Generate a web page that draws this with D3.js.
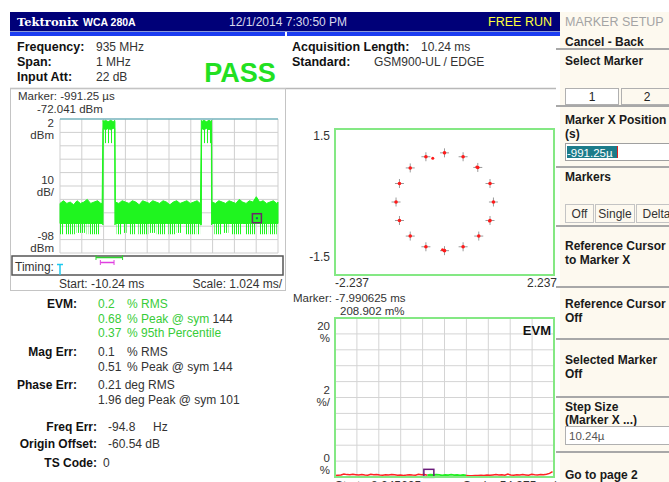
<!DOCTYPE html>
<html><head><meta charset="utf-8">
<script src="https://cdn.jsdelivr.net/npm/d3@7"></script>
<style>
body{margin:0;background:#fff;}
svg{display:block;font-family:"Liberation Sans",Arial,sans-serif;}
</style>
</head><body>
<svg id="c" width="669" height="482"></svg>
<script>
// ---------------- DATA ----------------
const headerTexts = ["Tektronix", "WCA 280A", "12/1/2014 7:30:50 PM", "FREE RUN"];
const setupLabels = ["Frequency:", "Span:", "Input Att:"];
const setupValues = ["935 MHz", "1 MHz", "22 dB"];
const acqLabels = ["Acquisition Length:", "Standard:"];
const acqValues = ["10.24 ms", "GSM900-UL / EDGE"];
const verdict = "PASS";

// Time-domain (power vs time)
const timeStartMs = -10.24, timeScaleMs = 1.024;          // 10 divisions
const refLevelDbm = 2, dbPerDiv = 10;                     // 10 divisions
const traceTimeMs = [-10.24,-10.08,-9.92,-9.76,-9.60,-9.44,-9.28,-9.12,-8.96,-8.80,-8.64,-8.48,-8.32,-8.26,
  -8.22,-8.21,-8.10,-7.98,-7.86,-7.74,-7.67,-7.66,-7.64,
  -7.48,-7.32,-7.16,-7.00,-6.84,-6.68,-6.52,-6.36,-6.20,-6.04,-5.88,-5.72,-5.56,-5.40,-5.24,-5.08,-4.92,-4.76,-4.60,-4.44,-4.28,-4.12,-3.96,-3.80,-3.66,-3.64,
  -3.60,-3.59,-3.48,-3.36,-3.24,-3.13,-3.12,-3.10,
  -2.94,-2.78,-2.62,-2.46,-2.30,-2.14,-1.98,-1.82,-1.66,-1.50,-1.34,-1.18,-1.02,-0.86,-0.70,-0.54,-0.38,-0.22,-0.06,0.00];
const traceHighDbm = [-61,-59,-61,-60,-62,-59,-61,-60,-58,-61,-60,-59,-61,-61,
  1,0,1,0,1,0,1,0,-60,
  -61,-59,-60,-61,-59,-60,-62,-59,-60,-61,-59,-60,-61,-59,-60,-62,-60,-59,-61,-60,-59,-61,-60,-59,-61,-60,
  1,0,1,0,1,0,1,-60,
  -61,-59,-60,-61,-59,-60,-61,-58,-60,-61,-59,-60,-56,-60,-59,-61,-60,-59,-61,-60];
const traceLowDbm = [-76,-76,-76,-76,-76,-76,-76,-76,-76,-76,-76,-76,-76,-76,
  -77,-5,-6,-5,-6,-5,-5,-77,-76,
  -76,-76,-76,-76,-76,-76,-76,-76,-76,-76,-76,-76,-76,-76,-76,-76,-76,-76,-76,-76,-76,-76,-76,-76,-76,-77,
  -77,-5,-6,-5,-6,-5,-77,-76,
  -76,-76,-76,-76,-76,-76,-76,-76,-76,-76,-76,-76,-76,-76,-76,-76,-76,-76,-76,-76];
// sparse downward excursions below the dense noise band
const dipStartMs = [-10.24,-10.00,-9.46,-8.99,-8.83,-7.58,-7.27,-6.95,-6.56,-6.01,-5.70,-5.15,-4.76,-4.37,-3.82,-2.99,-2.57,-2.18,-1.55,-0.85,-0.38];
const dipEndMs   = [-10.08,-9.54,-9.07,-8.91,-8.36,-7.34,-7.11,-6.72,-6.09,-5.78,-5.31,-4.84,-4.52,-3.90,-3.66,-2.65,-2.33,-1.71,-1.08,-0.46,-0.06];
const dipLowDbm  = [-84,-84,-83,-84,-84,-84,-83,-84,-84,-83,-84,-84,-83,-84,-84,-84,-83,-84,-84,-84,-84];
// dips inside the two bursts
const burstDipStartMs = [-8.20, -3.58];
const burstDipEndMs   = [-7.68, -3.13];
const burstDipLowDbm  = [-16, -16];
const timeMarkerMs = -0.99125, timeMarkerDbm = -72.041;
const timingGreenMs = [-8.55, -7.30];
const timingMagentaMs = [-8.345625, -7.701875];

// Constellation
const constI = [0.00,0.38,0.68,0.93,1.00,0.93,0.70,0.38,0.00,-0.38,-0.70,-0.92,-0.99,-0.92,-0.70,-0.38];
const constQ = [1.01,0.93,0.71,0.38,0.00,-0.38,-0.70,-0.92,-1.00,-0.92,-0.70,-0.38,0.00,0.38,0.70,0.93];
const strayI = [-0.24, 0.66, -0.04, 0.92];
const strayQ = [0.90, 0.72, -0.98, -0.39];
const constRangeI = 2.237, constRangeQ = 1.5;

// EVM vs symbol (every 2nd symbol, %)
const evmValues = [0.18,0.22,0.25,0.38,0.30,0.27,0.33,0.29,0.24,0.31,0.26,0.22,0.35,0.28,0.30,0.25,0.21,0.27,0.24,0.32,0.28,0.23,0.26,0.20,0.24,0.29,0.25,0.22,0.33,0.27,0.30,
  0.22,0.28,0.25,0.31,0.26,0.20,0.27,0.24,0.29,0.23,0.26,0.21,0.25,0.19,
  0.17,0.15,0.20,0.18,0.22,0.19,0.24,0.21,0.26,0.30,0.24,0.28,0.22,0.36,0.25,0.21,0.27,0.24,0.30,0.26,0.22,0.33,0.28,0.25,0.31,0.27,0.34,0.45,0.68];
const evmSymbolCount = 147, trainingStart = 62, trainingEnd = 88;
const evmTopPct = 20, evmPctPerDiv = 2;
const evmMarkerSym = 63, evmMarkerPct = 0.209;

// Text results
const metricLabels = ["EVM:", "Mag Err:", "Phase Err:"];
const evmLines = [["0.2", "% RMS", ""], ["0.68", "% Peak @ sym", " 144"], ["0.37", "% 95th Percentile", ""]];
const magLines = [["0.1", "% RMS"], ["0.51", "% Peak @ sym 144"]];
const phaseLines = ["0.21 deg RMS", "1.96 deg Peak @ sym 101"];
const otherLabels = ["Freq Err:", "Origin Offset:", "TS Code:"];
const otherValues = ["-94.8", "-60.54 dB", "0"];

// Menu
const menuTitle = "MARKER SETUP";

// ---------------- DRAW ----------------
const svg = d3.select("#c");
const GREEN = "#1ff51f", TXT = "#333";

// header
svg.append("rect").attr("x",10).attr("y",12).attr("width",550).attr("height",19).attr("fill","#000078");
svg.append("rect").attr("x",10).attr("y",31).attr("width",550).attr("height",1).attr("fill","#8c9ad8");
svg.append("rect").attr("x",10).attr("y",32).attr("width",275).attr("height",4).attr("fill","#1b3cf2");
svg.append("rect").attr("x",287).attr("y",32).attr("width",273).attr("height",4).attr("fill","#1b3cf2");
svg.append("text").attr("x",17).attr("y",26).attr("fill","#fff").attr("font-family","DejaVu Serif").attr("font-weight","bold").attr("font-size",11.5).text(headerTexts[0]);
svg.append("text").attr("x",83).attr("y",26).attr("fill","#fff").attr("font-weight","bold").attr("font-size",10.5).text(headerTexts[1]);
svg.append("text").attr("x",229).attr("y",26).attr("fill","#d8d8ec").attr("font-size",12).text(headerTexts[2]);
svg.append("text").attr("x",552).attr("y",26).attr("fill","#ffff3c").attr("font-size",12.5).attr("text-anchor","end").text(headerTexts[3]);

// right menu panel
svg.append("rect").attr("x",560).attr("y",12).attr("width",109).attr("height",470).attr("fill","#fdf9ef");

// setup block
setupLabels.forEach((l,i)=>{
  svg.append("text").attr("x",17).attr("y",51+i*15).attr("fill","#111").attr("font-weight","bold").attr("font-size",12.5).text(l);
  svg.append("text").attr("x",96).attr("y",51+i*15).attr("fill",TXT).attr("font-size",12).text(setupValues[i]);
});
acqLabels.forEach((l,i)=>{
  svg.append("text").attr("x",292).attr("y",51+i*15).attr("fill","#111").attr("font-weight","bold").attr("font-size",12.5).text(l);
  svg.append("text").attr("x",i===0?421:374).attr("y",51+i*15).attr("fill",TXT).attr("font-size",12).text(acqValues[i]);
});
svg.append("text").attr("x",240).attr("y",82).attr("text-anchor","middle").attr("fill","#22e022").attr("font-weight","bold").attr("font-size",27).text(verdict);
svg.append("line").attr("x1",10).attr("x2",556).attr("y1",88.5).attr("y2",88.5).attr("stroke","#b8b8b8").attr("stroke-width",1.5);

// ---- time domain panel ----
svg.append("rect").attr("x",10.5).attr("y",88.5).attr("width",275).attr("height",202).attr("fill","none").attr("stroke","#c4c4c4");
const xT = d3.scaleLinear().domain([timeStartMs, timeStartMs+10*timeScaleMs]).range([60,278]);
const yP = d3.scaleLinear().domain([refLevelDbm-10*dbPerDiv, refLevelDbm]).range([253,119]);
const defs = svg.append("defs");
const p1 = defs.append("pattern").attr("id","dip").attr("patternUnits","userSpaceOnUse").attr("width",2).attr("height",20);
p1.append("rect").attr("width",1).attr("height",20).attr("fill",GREEN);
const p2 = defs.append("pattern").attr("id","bdip").attr("patternUnits","userSpaceOnUse").attr("width",3).attr("height",30);
p2.append("rect").attr("width",1).attr("height",30).attr("fill",GREEN);

const tTicks = d3.range(11).map(i=>timeStartMs+i*timeScaleMs);
const pTicks = d3.range(11).map(i=>refLevelDbm-i*dbPerDiv);
const gT = svg.append("g");
gT.selectAll("line.v").data(tTicks).join("line").attr("x1",d=>xT(d)).attr("x2",d=>xT(d)).attr("y1",119).attr("y2",253).attr("stroke","#cfcfcf");
gT.selectAll("line.h").data(pTicks).join("line").attr("x1",60).attr("x2",278).attr("y1",d=>yP(d)).attr("y2",d=>yP(d)).attr("stroke","#cfcfcf");
const trace = traceTimeMs.map((t,i)=>({t, hi:traceHighDbm[i], lo:traceLowDbm[i]}));
dipStartMs.forEach((s,i)=>{
  gT.append("rect").attr("x",xT(s)).attr("width",xT(dipEndMs[i])-xT(s)).attr("y",yP(-76)).attr("height",yP(dipLowDbm[i])-yP(-76)).attr("fill","url(#dip)");
});
burstDipStartMs.forEach((s,i)=>{
  gT.append("rect").attr("x",xT(s)).attr("width",xT(burstDipEndMs[i])-xT(s)).attr("y",yP(-5)).attr("height",yP(burstDipLowDbm[i])-yP(-5)).attr("fill","url(#bdip)");
});
gT.append("path").datum(trace).attr("d",d3.area().x(d=>xT(d.t)).y0(d=>yP(d.lo)).y1(d=>yP(d.hi)))
  .attr("fill",GREEN).attr("stroke",GREEN).attr("stroke-width",1);
gT.append("line").attr("x1",60).attr("x2",278).attr("y1",yP(refLevelDbm)).attr("y2",yP(refLevelDbm)).attr("stroke","#4aa6b4").attr("stroke-width",1.2);
gT.append("rect").attr("x",xT(timeMarkerMs)-4.5).attr("y",yP(timeMarkerDbm)-4.5).attr("width",9).attr("height",9).attr("fill","none").attr("stroke","#6a2a6a").attr("stroke-width",1.5);
gT.append("rect").attr("x",xT(timeMarkerMs)-1).attr("y",yP(timeMarkerDbm)-1).attr("width",2).attr("height",2).attr("fill","#2a5a6a");
svg.append("text").attr("x",18).attr("y",100).attr("fill",TXT).attr("font-size",11.5).text("Marker: -991.25 µs");
svg.append("text").attr("x",37).attr("y",113).attr("fill",TXT).attr("font-size",11.5).text("-72.041 dBm");
[["2",127],["dBm",139],["10",184],["dB/",196],["-98",240],["dBm",252]].forEach(([t,y])=>{
  svg.append("text").attr("x",54).attr("y",y).attr("text-anchor","end").attr("fill",TXT).attr("font-size",11.5).text(t);
});
// timing bar
svg.append("rect").attr("x",12).attr("y",256).attr("width",271).attr("height",19).attr("fill","none").attr("stroke","#555").attr("stroke-width",1.5);
svg.append("text").attr("x",15).attr("y",271).attr("fill",TXT).attr("font-size",12).text("Timing:");
svg.append("line").attr("x1",xT(timingGreenMs[0])).attr("x2",xT(timingGreenMs[1])).attr("y1",257.5).attr("y2",257.5).attr("stroke","#2ed62e").attr("stroke-width",1.5);
timingGreenMs.forEach(t=>svg.append("line").attr("x1",xT(t)).attr("x2",xT(t)).attr("y1",255).attr("y2",260).attr("stroke","#2ed62e"));
svg.append("line").attr("x1",xT(timingMagentaMs[0])).attr("x2",xT(timingMagentaMs[1])).attr("y1",262.5).attr("y2",262.5).attr("stroke","#e040e0").attr("stroke-width",1.5);
timingMagentaMs.forEach(t=>svg.append("line").attr("x1",xT(t)).attr("x2",xT(t)).attr("y1",260).attr("y2",265).attr("stroke","#e040e0"));
svg.append("line").attr("x1",xT(timeStartMs)-3).attr("x2",xT(timeStartMs)+3).attr("y1",264.5).attr("y2",264.5).attr("stroke","#1ec8ee").attr("stroke-width",1.5);
svg.append("line").attr("x1",xT(timeStartMs)).attr("x2",xT(timeStartMs)).attr("y1",264).attr("y2",275).attr("stroke","#1ec8ee").attr("stroke-width",1.5);
svg.append("text").attr("x",59).attr("y",288).attr("fill",TXT).attr("font-size",12).text("Start: -10.24 ms");
svg.append("text").attr("x",282).attr("y",288).attr("text-anchor","end").attr("fill",TXT).attr("font-size",12).text("Scale: 1.024 ms/");

// ---- constellation ----
const xI = d3.scaleLinear().domain([-constRangeI, constRangeI]).range([335,554]);
const yQ = d3.scaleLinear().domain([-constRangeQ, constRangeQ]).range([275,129]);
svg.append("rect").attr("x",335).attr("y",129).attr("width",219).attr("height",146).attr("fill","#fff").attr("stroke","#84e884").attr("stroke-width",2);
const pts = constI.map((v,i)=>({i:v, q:constQ[i]}));
const gC = svg.append("g");
gC.selectAll("path.cross").data(pts).join("path").attr("d",d=>`M${xI(d.i)-4.5},${yQ(d.q)}h9M${xI(d.i)},${yQ(d.q)-4.5}v9`).attr("stroke","#9a9a9a").attr("stroke-width",1);
gC.selectAll("circle.p").data(pts).join("circle").attr("cx",d=>xI(d.i)).attr("cy",d=>yQ(d.q)).attr("r",1.8).attr("fill","#ff1a1a");
gC.selectAll("circle.s").data(strayI.map((v,i)=>({i:v,q:strayQ[i]}))).join("circle").attr("cx",d=>xI(d.i)).attr("cy",d=>yQ(d.q)).attr("r",1.5).attr("fill","#ff1a1a");
svg.append("text").attr("x",330).attr("y",140).attr("text-anchor","end").attr("fill",TXT).attr("font-size",12).text(constRangeQ.toFixed(1));
svg.append("text").attr("x",330).attr("y",261).attr("text-anchor","end").attr("fill",TXT).attr("font-size",12).text((-constRangeQ).toFixed(1));
svg.append("text").attr("x",335).attr("y",287).attr("fill",TXT).attr("font-size",12).text((-constRangeI).toFixed(3));
svg.append("text").attr("x",557).attr("y",287).attr("text-anchor","end").attr("fill",TXT).attr("font-size",12).text(constRangeI.toFixed(3));

// ---- EVM plot ----
const xS = d3.scaleLinear().domain([0, evmSymbolCount]).range([335,554]);
const yE = d3.scaleLinear().domain([0, evmTopPct]).range([477,318]);
svg.append("text").attr("x",293).attr("y",302).attr("fill",TXT).attr("font-size",11.5).text("Marker: -7.990625 ms");
svg.append("text").attr("x",340).attr("y",315).attr("fill",TXT).attr("font-size",11.5).text("208.902 m%");
const gE = svg.append("g");
gE.append("rect").attr("x",335).attr("y",318).attr("width",219).attr("height",159).attr("fill","#fff");
gE.selectAll("line.v").data(d3.range(1,10)).join("line").attr("x1",d=>335+d*21.9).attr("x2",d=>335+d*21.9).attr("y1",318).attr("y2",477).attr("stroke","#d4d4d4");
gE.selectAll("line.h").data(d3.range(1,10).map(i=>i*evmPctPerDiv)).join("line").attr("x1",335).attr("x2",554).attr("y1",d=>yE(d)).attr("y2",d=>yE(d)).attr("stroke","#d4d4d4");
const evm = evmValues.map((v,i)=>({s:i*2, v}));
const ln = d3.line().x(d=>xS(d.s)).y(d=>yE(d.v));
gE.append("path").datum(evm.filter(d=>d.s<=trainingStart)).attr("d",ln).attr("fill","none").attr("stroke","#ff2222").attr("stroke-width",1.5);
gE.append("path").datum(evm.filter(d=>d.s>=trainingStart && d.s<=trainingEnd)).attr("d",ln).attr("fill","none").attr("stroke","#22ee22").attr("stroke-width",1.8);
gE.append("path").datum(evm.filter(d=>d.s>=trainingEnd)).attr("d",ln).attr("fill","none").attr("stroke","#ff2222").attr("stroke-width",1.5);
gE.append("rect").attr("x",xS(evmMarkerSym)-5).attr("y",yE(evmMarkerPct)-6).attr("width",10).attr("height",8).attr("fill","none").attr("stroke","#6a1a7a").attr("stroke-width",1.5);
gE.append("rect").attr("x",335).attr("y",318).attr("width",219).attr("height",159).attr("fill","none").attr("stroke","#84e884").attr("stroke-width",2);
gE.append("text").attr("x",551).attr("y",335).attr("text-anchor","end").attr("fill","#111").attr("font-size",13).attr("font-weight","bold").text("EVM");
[["20",330],["%",342],["2",394],["%/",406],["0",462],["%",474]].forEach(([t,y])=>{
  svg.append("text").attr("x",330).attr("y",y).attr("text-anchor","end").attr("fill",TXT).attr("font-size",11.5).text(t);
});
svg.append("text").attr("x",335).attr("y",490).attr("fill",TXT).attr("font-size",12).text("Start:  -8.245625 ms");
svg.append("text").attr("x",463).attr("y",490).attr("fill",TXT).attr("font-size",12).text("Scale: 54.375 µs/");

// ---- measurement results ----
const GT = "#38cc38";
svg.append("text").attr("x",77).attr("y",308).attr("text-anchor","end").attr("fill","#111").attr("font-weight","bold").attr("font-size",12).text(metricLabels[0]);
evmLines.forEach((l,i)=>{
  const y = 308+i*14.5;
  svg.append("text").attr("x",98).attr("y",y).attr("fill",GT).attr("font-size",12).text(l[0]);
  const t = svg.append("text").attr("x",127).attr("y",y).attr("font-size",12);
  t.append("tspan").attr("fill",GT).text(l[1]);
  t.append("tspan").attr("fill",TXT).text(l[2]);
});
svg.append("text").attr("x",77).attr("y",356).attr("text-anchor","end").attr("fill","#111").attr("font-weight","bold").attr("font-size",12).text(metricLabels[1]);
magLines.forEach((l,i)=>{
  svg.append("text").attr("x",98).attr("y",356+i*14.5).attr("fill",TXT).attr("font-size",12).text(l[0]);
  svg.append("text").attr("x",127).attr("y",356+i*14.5).attr("fill",TXT).attr("font-size",12).text(l[1]);
});
svg.append("text").attr("x",77).attr("y",389).attr("text-anchor","end").attr("fill","#111").attr("font-weight","bold").attr("font-size",12).text(metricLabels[2]);
phaseLines.forEach((l,i)=>{
  svg.append("text").attr("x",98).attr("y",389+i*14.5).attr("fill",TXT).attr("font-size",12).text(l);
});
otherLabels.forEach((l,i)=>{
  const y=[431,448,467][i];
  svg.append("text").attr("x",97).attr("y",y).attr("text-anchor","end").attr("fill","#111").attr("font-weight","bold").attr("font-size",12).text(l);
  svg.append("text").attr("x",i===2?103:108).attr("y",y).attr("fill",TXT).attr("font-size",12).text(otherValues[i]);
});
svg.append("text").attr("x",153).attr("y",431).attr("fill",TXT).attr("font-size",12).text("Hz");

// ---- menu ----
const M = svg.append("g").attr("font-size",12.5);
M.append("text").attr("x",565).attr("y",26).attr("fill","#a4a4a4").text(menuTitle);
[49,106,167,226,287,339,397,452].forEach(y=>{
  M.append("line").attr("x1",556).attr("x2",669).attr("y1",y).attr("y2",y).attr("stroke","#a8a8a8").attr("stroke-width",2);
});
const menuItems = [["Cancel - Back",46],["Select Marker",65],["Marker X Position",124],["(s)",138],["Markers",181],
  ["Reference Cursor",250],["to Marker X",264],["Reference Cursor",308],["Off",322],["Selected Marker",364],["Off",378],
  ["Step Size",411],["(Marker X ...)",424],["Go to page 2",479]];
menuItems.forEach(([t,y])=>M.append("text").attr("x",565).attr("y",y).attr("fill","#1a1a1a").attr("font-weight","bold").attr("font-size",12).text(t));
// marker select buttons
M.append("rect").attr("x",565.5).attr("y",88.5).attr("width",53).attr("height",16).attr("fill","#fff").attr("stroke","#b0b0b0");
M.append("rect").attr("x",621.5).attr("y",88.5).attr("width",52).attr("height",16).attr("fill","#fdf9ef").attr("stroke","#b0b0b0");
M.append("text").attr("x",592).attr("y",101).attr("text-anchor","middle").attr("fill","#222").attr("font-size",12).text("1");
M.append("text").attr("x",647).attr("y",101).attr("text-anchor","middle").attr("fill","#222").attr("font-size",12).text("2");
// position input
M.append("rect").attr("x",565.5).attr("y",143.5).attr("width",110).attr("height",17).attr("fill","#fff").attr("stroke","#a0a0a0");
M.append("rect").attr("x",567).attr("y",146).attr("width",50).attr("height",12).attr("fill","#1c7b8a");
M.append("text").attr("x",567).attr("y",156.5).attr("fill","#fff").attr("font-size",11.5).text("-991.25µ");
M.append("line").attr("x1",617.5).attr("x2",617.5).attr("y1",146).attr("y2",158).attr("stroke","#e02020");
// off/single/delta
[["Off",565,28],["Single",595,39],["Delta",636,40]].forEach(([t,x,w])=>{
  M.append("rect").attr("x",x+0.5).attr("y",204.5).attr("width",w).attr("height",18).attr("fill","#fdf9ef").attr("stroke","#c4c4c4");
  M.append("text").attr("x",x+w/2+0.5).attr("y",218).attr("text-anchor","middle").attr("fill","#333").attr("font-size",12).text(t);
});
// step size input
M.append("rect").attr("x",565.5).attr("y",426.5).attr("width",110).attr("height",18).attr("fill","#fff").attr("stroke","#b0b0b0");
M.append("text").attr("x",569).attr("y",440).attr("fill","#555").attr("font-size",11.5).text("10.24µ");
</script>
</body></html>
